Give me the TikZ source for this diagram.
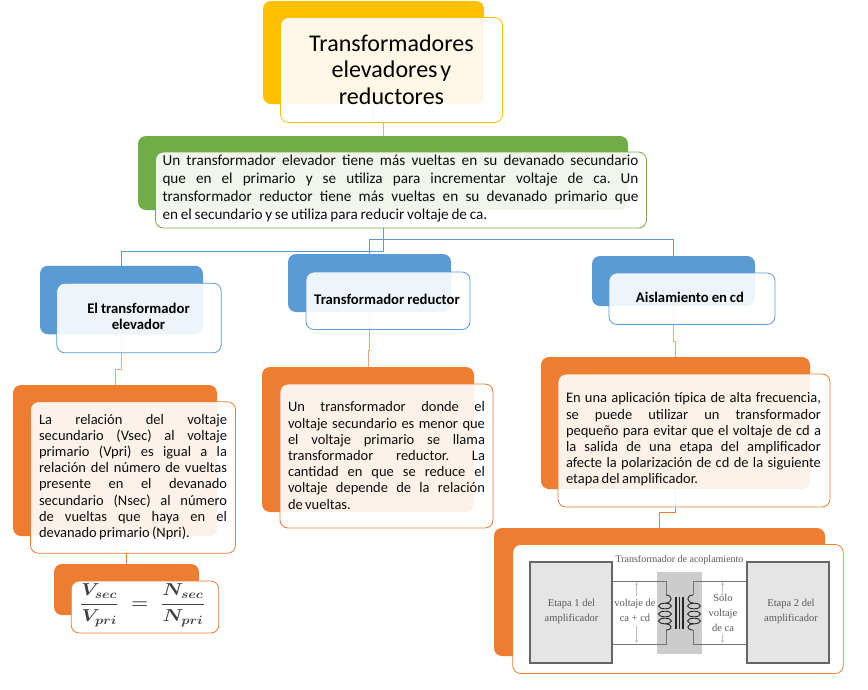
\documentclass[tikz,border=0pt]{standalone}
\usepackage{graphicx}
\usepackage{fontspec}
\setmainfont{Carlito}
\newfontfamily\figfont{Liberation Serif}
\frenchspacing
\definecolor{goldbox}{HTML}{FFC000}
\definecolor{greenbox}{HTML}{70AD47}
\definecolor{bluebox}{HTML}{5B9BD5}
\definecolor{orangebox}{HTML}{ED7D31}
\tikzset{
	backbox/.style={rectangle,rounded corners=8pt,inner sep=0pt,draw=none},
	frontbox/.style={rectangle,rounded corners=8pt,inner sep=0pt,line width=0.8pt,fill=white,fill opacity=0.9},
	plainbox/.style={frontbox,fill opacity=1},
	bodytext/.style={inner sep=0pt,align=justify,text=black!95,font=\fontsize{14.5}{16.2}\selectfont\spaceskip 0.16em plus 2em\relax},
	headtext/.style={inner sep=0pt,align=center,text=black,font=\fontsize{14.7}{15.5}\selectfont\bfseries\spaceskip 0.2em plus 1em\relax},
	figtext/.style={inner sep=0pt,align=center,text=black!65,font=\figfont\fontsize{10.5}{15}\selectfont},
	wire/.style={line width=0.8pt},
	stage/.style={rectangle,inner sep=0pt,draw=black!60,line width=1.2pt,fill=black!10,minimum width=82pt,minimum height=101pt},
	gauge/.style={black!25,line width=0.5pt,<->,>=stealth},
}
\begin{document}
\begin{tikzpicture}[x=1pt,y=-1pt]
	\useasboundingbox (0,0) rectangle (868,689);
	% Back boxes
	\node (titleback) [backbox,fill=goldbox,minimum width=221pt,minimum height=103pt] at (373.5,52.5) {};
	\node (introback) [backbox,fill=greenbox,minimum width=490pt,minimum height=74pt] at (383,173) {};
	\node (elevback) [backbox,fill=bluebox,minimum width=163pt,minimum height=68.5pt] at (121.5,300) {};
	\node (reducback) [backbox,fill=bluebox,minimum width=163pt,minimum height=58pt] at (369.5,283) {};
	\node (aislaback) [backbox,fill=bluebox,minimum width=163pt,minimum height=50pt] at (673.5,281) {};
	\node (relback) [backbox,fill=orangebox,minimum width=204pt,minimum height=151pt] at (115,460.5) {};
	\node (formback) [backbox,fill=orangebox,minimum width=145pt,minimum height=51pt] at (126.5,589.5) {};
	\node (defback) [backbox,fill=orangebox,minimum width=212pt,minimum height=145pt] at (368,439.5) {};
	\node (aplback) [backbox,fill=orangebox,minimum width=269pt,minimum height=132pt] at (675.5,423) {};
	\node (figback) [backbox,fill=orangebox,minimum width=331pt,minimum height=128pt] at (659.5,592) {};
	% Connectors
	\draw[wire,greenbox!60] (titleback.south) -- ++(0,16) -| (introback.north);
	\draw[wire,bluebox] (introback.south) -- ++(0,41) -| (elevback.north);
	\draw[wire,bluebox] (introback.south) -- ++(0,29) -| (reducback.north);
	\draw[wire,bluebox] (introback.south) -- ++(0,29) -| (aislaback.north);
	\draw[wire,orangebox!70] (elevback.south) -- ++(0,35) -| (relback.north);
	\draw[wire,orangebox!70] (reducback.south) -- ++(0,38) -| (defback.north);
	\draw[wire,orangebox!70] (aislaback.south) -- ++(0,35) -| (aplback.north);
	\draw[wire,orangebox] (relback.south) -- ++(0,14) -| (formback.north);
	\draw[wire,orangebox] (aplback.south) -- ++(0,23) -| (figback.north);
	% Front boxes
	\node (titlefront) [frontbox,draw=goldbox,minimum width=222pt,minimum height=105pt] at (391.5,70) {};
	\node (introfront) [frontbox,draw=greenbox,minimum width=491pt,minimum height=76pt] at (401,190) {};
	\node (elevfront) [frontbox,draw=bluebox,minimum width=164.5pt,minimum height=69.5pt] at (139,318) {};
	\node (reducfront) [frontbox,draw=bluebox,minimum width=164pt,minimum height=57.5pt] at (388,300.75) {};
	\node (aislafront) [frontbox,draw=bluebox,minimum width=166pt,minimum height=51.5pt] at (692,298.75) {};
	\node (relfront) [frontbox,draw=orangebox,minimum width=205pt,minimum height=151.5pt] at (133,477.5) {};
	\node (formfront) [plainbox,draw=orangebox,minimum width=147.5pt,minimum height=52pt] at (145,607) {};
	\node (deffront) [frontbox,draw=orangebox,minimum width=213pt,minimum height=144pt] at (386.5,456) {};
	\node (aplfront) [frontbox,draw=orangebox,minimum width=272pt,minimum height=133pt] at (694,440.5) {};
	\node (figfront) [plainbox,draw=orangebox,minimum width=330.5pt,minimum height=129pt] at (678,609) {};
	% Texts
	\node (titletext) [inner sep=0pt,align=center,text=black,font=\fontsize{24}{26.5}\selectfont\spaceskip 0.12em\relax] at (391.5,69.5)
		{Transformadores\\elevadores y\\reductores};
	\node (introtext) [bodytext,text width=476pt,font=\fontsize{15.2}{17.7}\selectfont\spaceskip 0.18em plus 2em\relax] at (400.5,188.5)
		{Un transformador elevador tiene más vueltas en su devanado secundario\linebreak
		que en el primario y se utiliza para incrementar voltaje de ca. Un\linebreak
		transformador reductor tiene más vueltas en su devanado primario que\linebreak
		en el secundario y se utiliza para reducir voltaje de ca.};
	\node (elevtext) [headtext] at (138.5,316.5) {El transformador\\elevador};
	\node (reductext) [headtext] at (387,299) {Transformador reductor};
	\node (aislatext) [headtext] at (690,297) {Aislamiento en cd};
	\node (reltext) [bodytext,text width=188pt] at (133,477)
		{La relación del voltaje\linebreak
		secundario (Vsec) al voltaje\linebreak
		primario (Vpri) es igual a la\linebreak
		relación del número de vueltas\linebreak
		presente en el devanado\linebreak
		secundario (Nsec) al número\linebreak
		de vueltas que haya en el\linebreak
		devanado primario (Npri).};
	\node (deftext) [bodytext,text width=197pt] at (386.5,455.5)
		{Un transformador donde el\linebreak
		voltaje secundario es menor que\linebreak
		el voltaje primario se llama\linebreak
		transformador reductor. La\linebreak
		cantidad en que se reduce el\linebreak
		voltaje depende de la relación\linebreak
		de vueltas.};
	\node (apltext) [bodytext,text width=255pt] at (693.5,439.5)
		{En una aplicación típica de alta frecuencia,\linebreak
		se puede utilizar un transformador\linebreak
		pequeño para evitar que el voltaje de cd a\linebreak
		la salida de una etapa del amplificador\linebreak
		afecte la polarización de cd de la siguiente\linebreak
		etapa del amplificador.};
	\node (formtext) [inner sep=0pt,text=black!75,font=\fontsize{17.5}{21}\selectfont\boldmath] at (142.5,605)
		{\scalebox{1.14}[1]{$\displaystyle\frac{V_{sec}}{V_{pri}}\;=\;\frac{N_{sec}}{N_{pri}}$}};
	% Coupling figure
	\fill[black!20] (657,572) rectangle (702,654);
	\node (stageone) [stage] at (571,612.5) {};
	\node (stagetwo) [stage] at (788,612.5) {};
	\draw[black!55,line width=0.9pt] (stageone.east |- 0,581) -- (666,581) -- (666,595);
	\draw[black!55,line width=0.9pt] (stageone.east |- 0,644) -- (666,644) -- (666,630);
	\draw[black!55,line width=0.9pt] (stagetwo.west |- 0,581) -- (693,581) -- (693,595);
	\draw[black!55,line width=0.9pt] (stagetwo.west |- 0,644) -- (693,644) -- (693,630);
	% Coils
	\foreach \ypos in {606,614,621} {
		\draw[black!85,line width=0.9pt] (665,\ypos) ellipse[x radius=6.5, y radius=2.8];
		\draw[black!85,line width=0.9pt] (694,\ypos) ellipse[x radius=6.5, y radius=2.8];
	}
	\draw[black!85,line width=0.9pt] (666,595) .. controls (673,595) and (673,603) .. (665,603.2);
	\draw[black!85,line width=0.9pt] (666,630) .. controls (673,630) and (673,624) .. (665,623.8);
	\draw[black!85,line width=0.9pt] (693,595) .. controls (686,595) and (686,603) .. (694,603.2);
	\draw[black!85,line width=0.9pt] (693,630) .. controls (686,630) and (686,624) .. (694,623.8);
	\foreach \xpos in {676,679.5,683} {
		\draw[black!85,line width=1.3pt] (\xpos,597) -- (\xpos,629);
	}
	% Voltage marks
	\coordinate (gaugeone) at (636.5,582);
	\coordinate (gaugetwo) at (722.5,582);
	\draw[gauge,<-] (gaugeone) -- ++(0,14);
	\draw[gauge,->] (636.5,626) -- ++(0,17);
	\draw[gauge,<-] (gaugetwo) -- ++(0,11);
	\draw[gauge,->] (722.5,634) -- ++(0,9);
	\node (figtitle) [figtext,font=\figfont\fontsize{10}{14}\selectfont] at (679.5,560) {Transformador de acoplamiento};
	\node (stageonetext) [figtext] at (571.5,611.5) {Etapa 1 del\\amplificador};
	\node (stagetwotext) [figtext] at (791,611.5) {Etapa 2 del\\amplificador};
	\node (gaugeonetext) [figtext] at (635,610) {voltaje de\\ca + cd};
	\node (gaugetwotext) [figtext] at (723,613) {Sólo\\voltaje\\de ca};
\end{tikzpicture}
\end{document}
